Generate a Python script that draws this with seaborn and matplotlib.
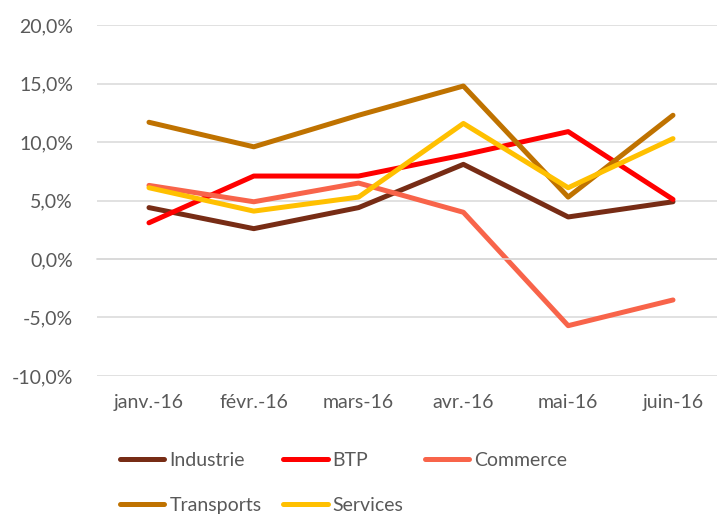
import pandas as pd
import matplotlib
matplotlib.use("Agg")
import matplotlib.pyplot as plt
from matplotlib.ticker import FuncFormatter, FixedLocator
import seaborn as sns

# Données (en %)
mois = ["janv.-16", "févr.-16", "mars-16", "avr.-16", "mai-16", "juin-16"]
industrie = [4.4, 2.6, 4.4, 8.1, 3.6, 4.9]
btp = [3.1, 7.1, 7.1, 8.9, 10.9, 5.1]
commerce = [6.3, 4.9, 6.5, 4.0, -5.7, -3.5]
transports = [11.7, 9.6, 12.3, 14.8, 5.3, 12.3]
services = [6.1, 4.1, 5.3, 11.6, 6.1, 10.3]

secteurs = ["Industrie", "BTP", "Commerce", "Transports", "Services"]
couleurs = ["#772c15", "#ff0000", "#f8644a", "#bf7200", "#ffc000"]

df = pd.DataFrame({"Mois": mois, "Industrie": industrie, "BTP": btp,
                   "Commerce": commerce, "Transports": transports,
                   "Services": services})
df_long = df.melt(id_vars="Mois", var_name="Secteur", value_name="Valeur")

sns.set_style("white")
plt.rcParams["font.family"] = ["Lato", "DejaVu Sans"]
texte = "#595959"

fig = plt.figure(figsize=(7.17, 5.15), dpi=100)
ax = fig.add_axes([0.1347, 0.270, 0.877, 0.681])

sns.lineplot(data=df_long, x="Mois", y="Valeur", hue="Secteur",
             hue_order=secteurs, palette=couleurs, linewidth=3.6,
             sort=False, ax=ax, legend=True)
for ln in ax.get_lines():
    ln.set_solid_joinstyle("round")
    ln.set_solid_capstyle("round")

ax.set_xlim(-0.5, 5.5)
ax.set_ylim(-10, 20)
ax.set_yticks(range(-10, 25, 5))
ax.yaxis.set_major_formatter(FuncFormatter(lambda v, p: f"{v:.1f}%".replace(".", ",")))
ax.grid(axis="y", color="#d9d9d9", linewidth=1.1)
ax.set_axisbelow(True)
ax.set_xlabel("")
ax.set_ylabel("")

for s in ["top", "right", "left"]:
    ax.spines[s].set_visible(False)
ax.spines["bottom"].set_position(("data", 0))
ax.spines["bottom"].set_color("#d9d9d9")
ax.spines["bottom"].set_linewidth(1.1)
ax.xaxis.set_major_locator(FixedLocator(range(len(mois))))
ax.tick_params(axis="x", which="major", length=0, labelbottom=False)
ax.xaxis.set_minor_locator(FixedLocator([i - 0.5 for i in range(len(mois) + 1)]))
ax.tick_params(axis="x", which="minor", length=5, width=1.1, color="#d9d9d9")
ax.tick_params(axis="y", length=0, pad=17, labelsize=14, labelcolor=texte)

sec = ax.secondary_xaxis("bottom")
sec.set_xticks(range(len(mois)), labels=mois)
sec.tick_params(length=0, pad=13, labelsize=14, labelcolor=texte)
sec.spines["bottom"].set_visible(False)

# Légende sur deux lignes
handles, labels = ax.get_legend_handles_labels()
ax.get_legend().remove()
ordre = [0, 3, 1, 4, 2]
leg = fig.legend([handles[i] for i in ordre], [labels[i] for i in ordre],
                 loc="upper left", bbox_to_anchor=(0.167, 0.122), ncol=3,
                 frameon=False, fontsize=14, handlelength=2.3,
                 handletextpad=0.25, columnspacing=1.1, labelspacing=1.42,
                 borderpad=0, borderaxespad=0)
for t in leg.get_texts():
    t.set_color(texte)
for h in leg.get_lines():
    h.set_linewidth(3.6)
    h.set_solid_capstyle("round")

fig.savefig("out.png", dpi=100)
